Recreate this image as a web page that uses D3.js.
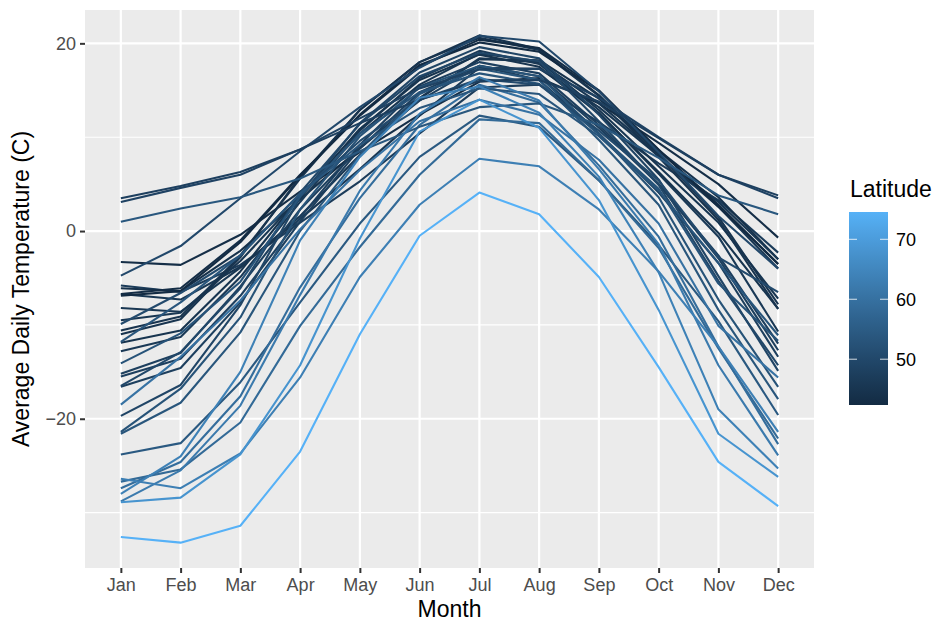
<!DOCTYPE html>
<html>
<head>
<meta charset="utf-8">
<script src="https://cdn.jsdelivr.net/npm/d3@7"></script>
<style>
  body { margin: 0; background: #fff; }
  text { font-family: "Liberation Sans", Arial, sans-serif; }
</style>
</head>
<body>
<div id="chart"></div>
<script>
let months = ["Jan","Feb","Mar","Apr","May","Jun","Jul","Aug","Sep","Oct","Nov","Dec"]

let stations = ["St. Johns","Halifax","Sydney","Yarmouth","Charlottetvl","Fredericton","Scheffervll","Arvida","Bagottville","Quebec","Sherbrooke","Montreal","Ottawa","Toronto","London","Thunder Bay","Winnipeg","The Pas","Churchill","Regina","Pr. Albert","Uranium Cty","Edmonton","Calgary","Kamloops","Vancouver","Victoria","Pr. George","Pr. Rupert","Whitehorse","Dawson","Yellowknife","Iqaluit","Inuvik","Resolute"]

let latitude = [47.57,44.65,46.17,43.83,46.23,45.92,54.8,48.43,48.33,46.8,45.4,45.5,45.45,43.67,43.03,48.37,49.9,53.97,58.75,50.43,53.22,59.57,53.3,51.1,50.7,49.18,48.42,53.88,54.3,60.72,64.07,62.47,63.75,68.3,74.72]

let temps = [
  [-5.8,-6.5,-3.6,0.9,5.3,10.4,15.3,15.6,11.6,7.2,3.3,-2.3],
  [-6.1,-6.4,-2.1,3.4,8.8,14.2,18.3,18.2,14.1,8.6,3.6,-3.0],
  [-6.7,-7.3,-3.8,1.3,6.6,12.3,17.4,17.3,13.2,8.0,3.1,-3.0],
  [-3.3,-3.6,-0.4,4.2,8.4,12.4,15.9,16.3,13.6,9.4,5.0,-0.7],
  [-8.2,-8.6,-3.9,1.6,8.1,14.1,18.4,18.0,13.6,8.1,2.6,-4.0],
  [-9.5,-8.7,-3.2,3.6,10.4,15.6,18.9,18.1,12.9,6.9,0.9,-7.2],
  [-23.8,-22.6,-16.1,-7.6,0.8,7.9,12.3,11.1,5.4,-1.5,-9.6,-19.6],
  [-15.5,-13.6,-6.9,1.4,9.2,15.4,18.0,16.8,11.3,5.0,-2.6,-12.0],
  [-16.6,-14.6,-7.6,1.0,8.8,14.8,17.6,16.1,10.4,4.1,-3.4,-13.4],
  [-12.8,-11.3,-4.9,3.1,10.7,16.3,19.2,17.8,12.6,6.1,-0.6,-10.7],
  [-11.9,-10.6,-4.3,3.7,10.9,16.1,18.8,17.5,12.5,6.3,-0.2,-8.3],
  [-10.6,-9.1,-2.6,5.6,12.9,18.0,20.85,19.4,14.5,8.2,1.5,-7.8],
  [-11.0,-9.4,-2.8,5.8,12.9,18.0,20.6,19.3,14.4,7.9,1.2,-8.3],
  [-6.7,-6.1,-1.0,6.0,12.3,17.5,20.4,19.5,15.0,8.6,2.8,-3.5],
  [-6.9,-6.4,-1.2,5.9,12.4,17.7,20.1,19.1,14.9,8.7,2.6,-3.5],
  [-15.2,-13.0,-5.9,2.3,8.9,13.9,17.6,16.5,11.0,5.0,-2.9,-12.7],
  [-19.7,-16.4,-7.9,3.6,11.5,16.9,19.6,18.4,12.4,5.5,-4.8,-14.9],
  [-21.6,-18.3,-10.8,0.0,8.1,14.6,17.3,16.1,9.7,2.8,-8.4,-17.9],
  [-26.7,-25.4,-20.4,-10.1,-1.7,6.0,11.9,11.5,5.4,-1.8,-12.5,-22.1],
  [-16.5,-12.9,-6.1,4.1,11.4,16.5,19.0,18.1,11.7,4.9,-5.3,-14.3],
  [-21.4,-16.8,-9.2,2.3,10.1,15.3,17.6,16.5,10.4,3.6,-7.3,-16.6],
  [-27.4,-24.6,-17.6,-6.0,3.5,11.3,15.6,13.7,7.0,-0.6,-12.3,-22.7],
  [-14.1,-10.9,-5.4,3.7,10.4,14.8,16.8,15.7,10.3,4.5,-5.6,-11.7],
  [-9.9,-6.6,-2.6,4.0,9.6,14.0,16.2,15.6,10.7,5.4,-2.8,-6.5],
  [-4.75,-1.6,3.5,8.5,13.2,17.4,20.8,20.2,14.9,8.4,1.6,-4.0],
  [3.1,4.6,6.0,8.7,12.0,15.2,17.2,17.3,14.2,10.0,6.0,3.5],
  [3.5,4.8,6.3,8.7,11.5,14.0,16.0,16.1,13.8,9.9,6.0,3.8],
  [-11.8,-7.6,-2.6,4.0,9.2,13.1,15.2,14.6,10.1,4.3,-3.4,-11.1],
  [1.0,2.4,3.6,5.6,8.5,11.1,13.2,13.6,11.3,7.8,3.8,1.8],
  [-18.5,-13.4,-7.4,0.2,6.5,11.7,14.0,12.4,7.6,0.8,-10.1,-15.6],
  [-28.0,-24.0,-15.0,-1.0,7.9,14.2,15.4,12.6,5.8,-4.4,-19.0,-25.3],
  [-28.8,-25.5,-18.6,-6.8,4.3,12.5,16.4,13.9,6.6,-1.4,-14.3,-23.9],
  [-26.4,-27.4,-23.7,-15.6,-4.9,2.8,7.7,6.9,2.3,-4.3,-12.3,-21.4],
  [-28.9,-28.4,-23.8,-14.3,-0.8,10.6,14.0,11.0,3.3,-8.4,-21.6,-26.2],
  [-32.6,-33.2,-31.4,-23.5,-11.0,-0.5,4.1,1.8,-4.9,-14.5,-24.6,-29.3]
]

let yTicks = [-20, 0, 20]
let yMinor = [-30, -10, 10]
let legendTicks = [50, 60, 70]

let width = 937
let height = 621
let margin = {top: 10, bottom: 53, left: 85, right: 123}

let svg = d3.select("#chart").append("svg")
    .attr("width", width)
    .attr("height", height)

let data = stations.map((s, i) => ({name: s, lat: latitude[i], values: temps[i]}))

let allVals = temps.flat()
let ext = d3.extent(allVals)
let pad = (ext[1] - ext[0]) * 0.05

let xScale = d3.scalePoint().domain(months).range([margin.left, width - margin.right]).padding(0.6)
let yScale = d3.scaleLinear().domain([ext[0] - pad, ext[1] + pad]).range([height - margin.bottom, margin.top])
let cScale = d3.scaleLinear().domain(d3.extent(latitude)).range(["#132B43", "#56B1F7"]).interpolate(d3.interpolateLab)

let pl = margin.left, pr = width - margin.right, pt = margin.top, pb = height - margin.bottom

// panel
svg.append("rect")
    .attr("x", pl).attr("y", pt)
    .attr("width", pr - pl).attr("height", pb - pt)
    .attr("fill", "#EBEBEB")

svg.append("g").selectAll("line").data(yMinor).enter().append("line")
    .attr("x1", pl).attr("x2", pr)
    .attr("y1", d => yScale(d)).attr("y2", d => yScale(d))
    .attr("stroke", "#fff").attr("stroke-width", 1.1)

svg.append("g").selectAll("line").data(yTicks).enter().append("line")
    .attr("x1", pl).attr("x2", pr)
    .attr("y1", d => yScale(d)).attr("y2", d => yScale(d))
    .attr("stroke", "#fff").attr("stroke-width", 2.2)

svg.append("g").selectAll("line").data(months).enter().append("line")
    .attr("x1", d => xScale(d)).attr("x2", d => xScale(d))
    .attr("y1", pt).attr("y2", pb)
    .attr("stroke", "#fff").attr("stroke-width", 2.2)

// lines
let line = d3.line()
    .x((d, i) => xScale(months[i]))
    .y(d => yScale(d))

svg.append("g").selectAll("path").data(data).enter().append("path")
    .attr("d", d => line(d.values))
    .attr("fill", "none")
    .attr("stroke", d => cScale(d.lat))
    .attr("stroke-width", 2.1)
    .attr("stroke-linejoin", "round")

// axes
let xAxis = svg.append("g")
    .attr("transform", "translate(0," + pb + ")")
    .call(d3.axisBottom(xScale).tickSize(5).tickPadding(4))
let yAxis = svg.append("g")
    .attr("transform", "translate(" + pl + ",0)")
    .call(d3.axisLeft(yScale).tickValues(yTicks).tickSize(5).tickPadding(4).tickFormat(d => d < 0 ? "\u2212" + Math.abs(d) : d))

for (let ax of [xAxis, yAxis]) {
    ax.select(".domain").remove()
    ax.selectAll(".tick line").attr("stroke", "#333").attr("stroke-width", 2)
    ax.selectAll(".tick text").attr("fill", "#4D4D4D").style("font-size", "18px")
}
xAxis.selectAll(".tick text").attr("dy", "0.75em")

svg.append("text")
    .attr("x", (pl + pr) / 2)
    .attr("y", 617)
    .attr("text-anchor", "middle")
    .style("font-size", "23px")
    .text("Month")

svg.append("text")
    .attr("transform", "translate(29," + ((pt + pb) / 2) + ") rotate(-90)")
    .attr("text-anchor", "middle")
    .style("font-size", "23px")
    .text("Average Daily Temperature (C)")

// legend
let lx = 849, lw = 39, ltop = 212, lbot = 405
let defs = svg.append("defs")
let grad = defs.append("linearGradient").attr("id", "latgrad")
    .attr("x1", 0).attr("x2", 0).attr("y1", 1).attr("y2", 0)
let latExt = d3.extent(latitude)
d3.range(0, 21).forEach(i => {
    let t = i / 20
    grad.append("stop").attr("offset", t).attr("stop-color", cScale(latExt[0] + t * (latExt[1] - latExt[0])))
})

svg.append("text")
    .attr("x", lx + 1).attr("y", 197)
    .style("font-size", "23px")
    .text("Latitude")

svg.append("rect")
    .attr("x", lx).attr("y", ltop)
    .attr("width", lw).attr("height", lbot - ltop)
    .attr("fill", "url(#latgrad)")

let lScale = d3.scaleLinear().domain(latExt).range([lbot - 4, ltop - 1])
let lt = svg.append("g").selectAll("g").data(legendTicks).enter().append("g")
lt.append("line")
    .attr("x1", lx).attr("x2", lx + 8)
    .attr("y1", d => lScale(d)).attr("y2", d => lScale(d))
    .attr("stroke", "#fff").attr("stroke-opacity", 0.8)
lt.append("line")
    .attr("x1", lx + lw - 8).attr("x2", lx + lw)
    .attr("y1", d => lScale(d)).attr("y2", d => lScale(d))
    .attr("stroke", "#fff").attr("stroke-opacity", 0.8)
lt.append("text")
    .attr("x", lx + lw + 8)
    .attr("y", d => lScale(d))
    .attr("dy", "0.36em")
    .style("font-size", "18px")
    .text(d => d)
</script>
</body>
</html>
